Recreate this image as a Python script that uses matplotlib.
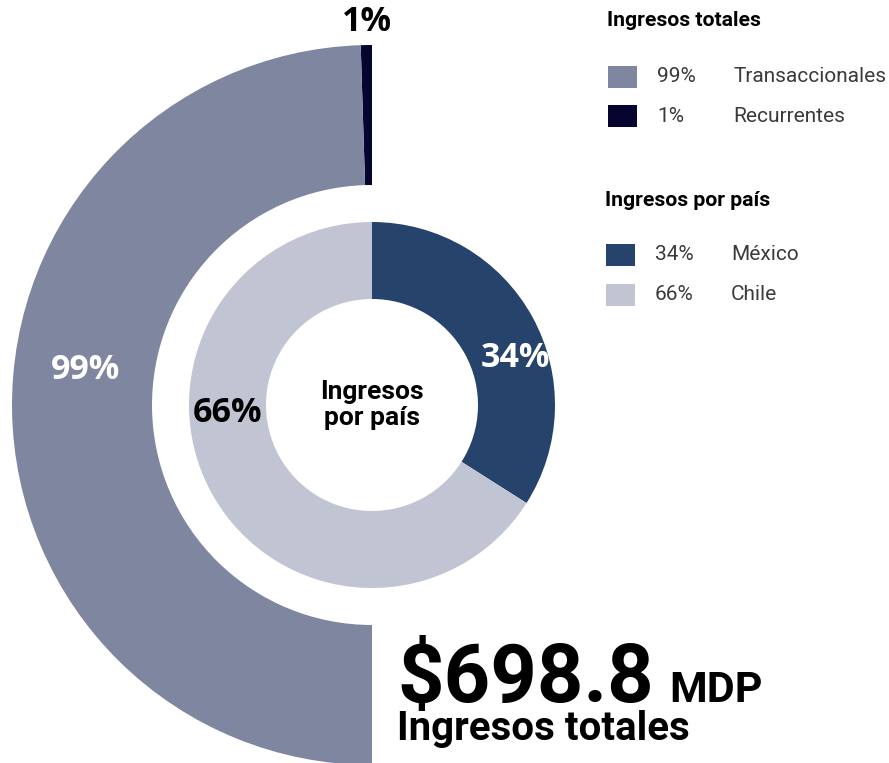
import matplotlib
matplotlib.use("Agg")
import matplotlib.pyplot as plt
from matplotlib.patches import Rectangle

# ---- data ----
total_labels = ["Transaccionales", "Recurrentes"]
total_pct = [99, 1]
total_colors = ["#7f869f", "#05052f"]

country_labels = ["México", "Chile"]
country_pct = [34, 66]
country_colors = ["#26446b", "#c1c4d3"]

total_amount = "$698.8"
amount_unit = "MDP"
amount_caption = "Ingresos totales"
legend_title_total = "Ingresos totales"
legend_title_country = "Ingresos por país"
center_text = "Ingresos\npor país"

W, H = 889, 763
fig = plt.figure(figsize=(W / 100, H / 100), dpi=100)
ax = fig.add_axes([0, 0, 1, 1])

def Y(py):
    return H - py

cx, cy = 372, Y(405)

# outer half donut (left half): Recurrentes first from 90°, counterclockwise
outer_vals = [total_pct[1] / 200, total_pct[0] / 200]
ax.pie(outer_vals, colors=[total_colors[1], total_colors[0]], startangle=90,
       counterclock=True, normalize=False, radius=360, center=(cx, cy),
       wedgeprops=dict(width=140, linewidth=0))

# inner donut
ax.pie(country_pct, colors=country_colors, startangle=90, counterclock=False,
       radius=183, center=(cx, cy), wedgeprops=dict(width=77, linewidth=0))

ax.set_xlim(0, W)
ax.set_ylim(0, H)
ax.set_aspect("auto")
ax.axis("off")

pct_font = dict(family=["Open Sans", "DejaVu Sans"], fontweight="bold", fontsize=24.5)
rob = ["Roboto", "DejaVu Sans"]

ax.text(367, Y(22), f"{total_pct[1]}%", color="black", ha="center", va="center", **pct_font)
ax.text(86, Y(370), f"{total_pct[0]}%", color="white", ha="center", va="center", **pct_font)
ax.text(515, Y(358), f"{country_pct[0]}%", color="white", ha="center", va="center", **pct_font)
ax.text(228, Y(413), f"{country_pct[1]}%", color="black", ha="center", va="center", **pct_font)

ax.text(cx, Y(405), center_text, family=rob, fontweight="bold", fontsize=19,
        ha="center", va="center", linespacing=1.15, color="black")

# big total
ax.text(397, Y(702), total_amount, family=rob, fontweight="bold", fontsize=58.5,
        ha="left", va="baseline", color="black")
ax.text(669, Y(702), amount_unit, family=rob, fontweight="bold", fontsize=31,
        ha="left", va="baseline", color="black")
ax.text(397, Y(740), amount_caption, family=rob, fontweight="bold", fontsize=29,
        ha="left", va="baseline", color="black")

# legends
def legend_block(title, title_y, labels, pcts, colors, row_ys, x0):
    ax.text(x0 - 1, Y(title_y), title, family=rob, fontweight="bold", fontsize=15.2,
            ha="left", va="center", color="black")
    for lab, p, c, ry in zip(labels, pcts, colors, row_ys):
        ax.add_patch(Rectangle((x0, Y(ry) - 11), 29, 22, facecolor=c, edgecolor="none"))
        ax.text(x0 + 49, Y(ry), f"{p}%", family=rob, fontsize=15,
                ha="left", va="center", color="#3a3a3a")
        ax.text(x0 + 125, Y(ry), lab, family=rob, fontsize=15,
                ha="left", va="center", color="#3a3a3a")

legend_block(legend_title_total, 21, total_labels, total_pct, total_colors, [77, 116], 608)
legend_block(legend_title_country, 200, country_labels, country_pct, country_colors, [255, 295], 606)

fig.savefig("out.png", dpi=100, facecolor="white")
